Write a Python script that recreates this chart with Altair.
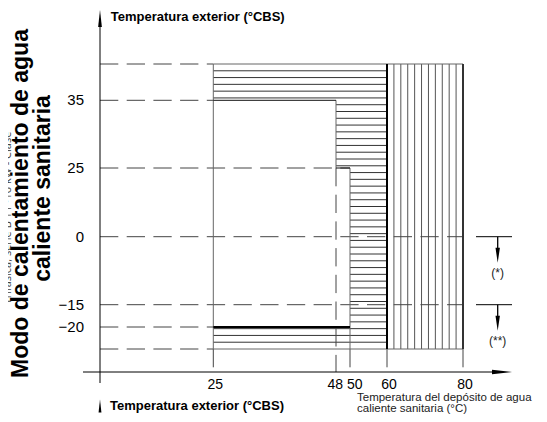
import altair as alt
import numpy as np
import pandas as pd

# ---------------- data ----------------
X_TICKS = [25, 48, 50, 60, 80]          # DHW tank temperature ticks (°C)
Y_TICKS = [35, 25, 0, -15, -20]         # outdoor temperature ticks (°CBS)
Y_TOP = 43                              # unlabeled upper limit
Y_BOTTOM = -25                          # unlabeled lower limit
X_LEFT = 25
X_HP_MAX = 60
X_MAX = 80
WHITE_STEP_X = [25, 48, 50]             # steps of the inner (white) area
WHITE_STEP_TOP = [35, 25]
WHITE_BOTTOM = -20
DASH_Y = [43, 35, 25, 0, -15, -20, -25]
DASH_X_END = [25, 25, 50, 80, 80, 25, 25]
VDASH_X = [25, 48, 50, 60, 80]
VDASH_Y_FROM = [-25, 25, -25, -25, -25]
NOTE_Y = [0, -15]
NOTE_TEXT = ["(*)", "(**)"]

# schematic (piecewise) scales
X_DOMAIN = [0, 25, 48, 50, 60, 80]
X_RANGE = [92, 205.3, 328, 342, 379, 455]
Y_DOMAIN = [-25, -20, -15, 0, 25, 35, 43]
Y_RANGE = [341, 319, 296.7, 228.7, 160, 92.3, 56]

XS = alt.Scale(domain=X_DOMAIN, range=X_RANGE, nice=False, zero=False)
YS = alt.Scale(domain=Y_DOMAIN, range=Y_RANGE, nice=False, zero=False)

FONT = "Liberation Sans, Arial, sans-serif"

# ---------------- hatching ----------------
N_H = 42
top_px = float(np.interp(Y_TOP, Y_DOMAIN, Y_RANGE))
bot_px = float(np.interp(Y_BOTTOM, Y_DOMAIN, Y_RANGE))
px = top_px + (bot_px - top_px) * np.arange(1, N_H) / N_H
hy = np.interp(px, Y_RANGE[::-1], Y_DOMAIN[::-1])


def band_start(v):
    if v > WHITE_STEP_TOP[0]:
        return WHITE_STEP_X[0]
    if v > WHITE_STEP_TOP[1]:
        return WHITE_STEP_X[1]
    if v > WHITE_BOTTOM:
        return WHITE_STEP_X[2]
    return X_LEFT


hatch_h = pd.DataFrame({"y": hy, "x0": [band_start(v) for v in hy], "x1": X_HP_MAX})
hatch_v = pd.DataFrame({"x": np.linspace(X_HP_MAX, X_MAX, 12)[1:-1],
                        "y0": Y_BOTTOM, "y1": Y_TOP})


def seg_chart(rows, color, width):
    df = pd.DataFrame(rows, columns=["x0", "y0", "x1", "y1"])
    return alt.Chart(df).mark_rule(color=color, strokeWidth=width).encode(
        x=alt.X("x0:Q", scale=XS, axis=None), x2="x1:Q",
        y=alt.Y("y0:Q", scale=YS, axis=None), y2="y1:Q")


one = pd.DataFrame({"a": [0]})

layers = []
layers.append(alt.Chart(hatch_v).mark_rule(color="#555", strokeWidth=1).encode(
    x=alt.X("x:Q", scale=XS, axis=None),
    y=alt.Y("y0:Q", scale=YS, axis=None), y2="y1:Q"))
layers.append(alt.Chart(hatch_h).mark_rule(color="#333", strokeWidth=1).encode(
    x=alt.X("x0:Q", scale=XS, axis=None), x2="x1:Q",
    y=alt.Y("y:Q", scale=YS, axis=None)))

dash_df = pd.DataFrame({"y": DASH_Y, "x0": 0, "x1": DASH_X_END})
layers.append(alt.Chart(dash_df).mark_rule(color="#444", strokeWidth=1,
                                           strokeDash=[18.3, 8.4]).encode(
    x=alt.X("x0:Q", scale=XS, axis=None), x2="x1:Q",
    y=alt.Y("y:Q", scale=YS, axis=None)))

vdash_df = pd.DataFrame({"x": VDASH_X, "y": VDASH_Y_FROM})
layers.append(alt.Chart(vdash_df).mark_rule(color="#444", strokeWidth=1,
                                            strokeDash=[18.3, 8.4]).encode(
    x=alt.X("x:Q", scale=XS, axis=None),
    y=alt.Y("y:Q", scale=YS, axis=None), y2=alt.value(364)))

# region outlines
layers.append(seg_chart([
    (X_LEFT, Y_TOP, X_LEFT, Y_BOTTOM),
    (X_LEFT, Y_TOP, X_MAX, Y_TOP),
    (X_LEFT, Y_BOTTOM, X_MAX, Y_BOTTOM),
    (WHITE_STEP_X[1], WHITE_STEP_TOP[0], WHITE_STEP_X[1], WHITE_STEP_TOP[1]),
    (WHITE_STEP_X[2], WHITE_STEP_TOP[1], WHITE_STEP_X[2], Y_BOTTOM),
], "#666", 1))
layers.append(seg_chart([
    (WHITE_STEP_X[0], WHITE_STEP_TOP[0], WHITE_STEP_X[1], WHITE_STEP_TOP[0]),
    (WHITE_STEP_X[1], WHITE_STEP_TOP[1], WHITE_STEP_X[2], WHITE_STEP_TOP[1]),
], "#111", 1))
layers.append(seg_chart([
    (WHITE_STEP_X[0], WHITE_BOTTOM, WHITE_STEP_X[2], WHITE_BOTTOM),
    (X_HP_MAX, Y_TOP, X_HP_MAX, Y_BOTTOM),
], "#000", 2))
layers.append(seg_chart([
    (X_MAX, Y_TOP, X_MAX, Y_BOTTOM),
], "#333", 2))

# axes
layers.append(alt.Chart(one).mark_rule(color="#000", strokeWidth=1).encode(
    x=alt.value(92), y=alt.value(12), y2=alt.value(375)))
layers.append(alt.Chart(one).mark_rule(color="#000", strokeWidth=1).encode(
    x=alt.value(75), x2=alt.value(492), y=alt.value(364)))
UP = "M0,-1L0.22,1L-0.22,1Z"
RIGHT = "M1,0L-1,-0.22L-1,0.22Z"
DOWN = "M-0.05,-1L0.05,-1L0.05,-0.15L0.17,-0.15L0,1L-0.17,-0.15L-0.05,-0.15Z"
layers.append(alt.Chart(one).mark_point(shape=UP, size=289, filled=True, color="#000",
                                        opacity=1, strokeWidth=0).encode(
    x=alt.value(92), y=alt.value(10.5)))
layers.append(alt.Chart(one).mark_point(shape=UP, size=169, filled=True, color="#000",
                                        opacity=1, strokeWidth=0).encode(
    x=alt.value(92), y=alt.value(398)))
layers.append(alt.Chart(one).mark_point(shape=RIGHT, size=400, filled=True, color="#000",
                                        opacity=1, strokeWidth=0).encode(
    x=alt.value(494), y=alt.value(364)))

# notes (*) (**)
note_df = pd.DataFrame({"y": NOTE_Y, "t": NOTE_TEXT})
layers.append(alt.Chart(note_df).mark_rule(color="#000", strokeWidth=1).encode(
    x=alt.value(468), x2=alt.value(504), y=alt.Y("y:Q", scale=YS, axis=None)))
layers.append(alt.Chart(note_df).mark_point(shape=DOWN, size=676, filled=True, color="#000",
                                            opacity=1, strokeWidth=0, yOffset=13).encode(
    x=alt.value(489.7), y=alt.Y("y:Q", scale=YS, axis=None)))
layers.append(alt.Chart(note_df).mark_text(font=FONT, fontSize=12,
                                           dy=36, baseline="middle", color="#222").encode(
    x=alt.value(489.7), y=alt.Y("y:Q", scale=YS, axis=None), text="t:N"))

# tick labels (48 and 50 are pushed apart, as in the drawing)
xt = pd.DataFrame({"x": X_TICKS})
for flt, align, dx in [("datum.x != 48 && datum.x != 50", "center", 2),
                       ("datum.x == 48", "right", 7),
                       ("datum.x == 50", "left", -3)]:
    layers.append(alt.Chart(xt).transform_filter(flt).mark_text(
        font=FONT, fontSize=14, baseline="middle", align=align, dx=dx,
        color="#000").encode(
        x=alt.X("x:Q", scale=XS, axis=None), y=alt.value(377),
        text=alt.Text("x:Q", format="d")))
layers.append(alt.Chart(pd.DataFrame({"y": Y_TICKS})).mark_text(
    font=FONT, fontSize=15, baseline="middle", align="right",
    color="#000").encode(
    x=alt.value(76), y=alt.Y("y:Q", scale=YS, axis=None),
    text=alt.Text("y:Q", format="d")))

# titles
def label(text, x, y, **kw):
    return alt.Chart(one).mark_text(text=text, **kw).encode(x=alt.value(x), y=alt.value(y))

layers.append(label("Temperatura exterior (°CBS)", 102.7, 12.5, font=FONT,
                    fontWeight="bold", fontSize=13, align="left", baseline="alphabetic"))
layers.append(label("Temperatura exterior (°CBS)", 102, 402, font=FONT,
                    fontWeight="bold", fontSize=13, align="left", baseline="alphabetic"))
layers.append(label("Temperatura del depósito de agua", 349, 392.5, font=FONT,
                    fontSize=11.5, align="left", baseline="alphabetic", color="#222"))
layers.append(label("caliente sanitaria (°C)", 349, 403.5, font=FONT,
                    fontSize=11.5, align="left", baseline="alphabetic", color="#222"))
layers.append(label("Modo de calentamiento de agua", 19.5, 195.5, font=FONT,
                    fontWeight="bold", fontSize=23, align="center", baseline="alphabetic",
                    angle=270))
layers.append(label("caliente sanitaria", 42, 180.5, font=FONT,
                    fontWeight="bold", fontSize=23, align="center", baseline="alphabetic",
                    angle=270))
layers.append(label("Trifásica, serie B 11~16 kW - Clase", 3, 210, font="Open Sans",
                    fontSize=11, align="center", baseline="alphabetic", angle=270,
                    color="#444"))

chart = alt.layer(*layers).properties(
    width=531, height=406,
    autosize=alt.AutoSizeParams(type="none"),
    padding=0,
).configure_view(stroke=None)

chart.save("out.html", embed_options={"renderer": "svg", "actions": False})
